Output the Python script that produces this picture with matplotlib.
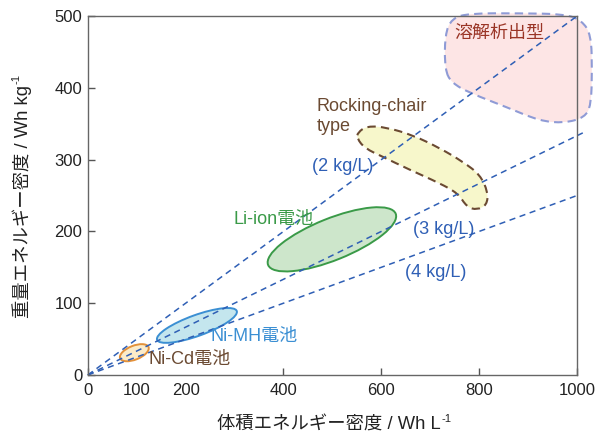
import numpy as np
import matplotlib
matplotlib.use('Agg')
import matplotlib.pyplot as plt
from matplotlib.patches import Ellipse, PathPatch
from matplotlib.path import Path
from matplotlib.transforms import Affine2D, ScaledTranslation

plt.rcParams['font.family'] = ['Liberation Sans', 'Noto Sans CJK JP']

# constant-density guide lines (Wh/kg = Wh/L / density)
densities = [2, 3, 4]
density_labels = ['(2 kg/L)', '(3 kg/L)', '(4 kg/L)']
line_end_x = [1000, 1012, 1000]
density_label_pos = [(458, 290), (665, 203), (648, 143)]

# battery families drawn as ellipses (centre in Wh/L, Wh/kg)
cells = ['Ni-Cd電池', 'Ni-MH電池', 'Li-ion電池']
cell_x = [95, 223, 499]
cell_y = [31, 69, 189]
cell_len_pt = [22, 61, 99]
cell_wid_pt = [10, 15, 30]
cell_angle = [21.6, 19.9, 21.9]
cell_edge = ['#e3913a', '#3b8fd3', '#3a9a48']
cell_face = ['#fcebc8', '#c4e6ee', '#cde6cb']
cell_text_pos = [(123, 22), (250, 54), (297, 217)]
cell_text_color = ['#6b4a32', '#3b8fd3', '#3a9a48']

# rocking-chair region outline
rock_x = [552, 571, 611, 665, 720, 767, 802, 818, 816, 796, 775, 757, 720, 658, 603, 566, 550]
rock_y = [338, 347, 345, 334, 316, 297, 279, 255, 237, 230, 234, 253, 267, 286, 304, 316, 330]

# dissolution-deposition region outline
diss_x = [730, 730, 744, 781, 883, 975, 1010, 1029, 1031, 1029, 1016, 975, 924, 857, 781, 744]
diss_y = [425, 474, 497, 504, 504, 503, 494, 474, 425, 376, 359, 351, 354, 373, 393, 407]


def smooth_path(xs, ys):
    pts = np.column_stack([xs, ys]).astype(float)
    mids = (pts + np.roll(pts, -1, axis=0)) / 2
    verts = [mids[-1]]
    codes = [Path.MOVETO]
    for i in range(len(pts)):
        verts += [pts[i], mids[i]]
        codes += [Path.CURVE3, Path.CURVE3]
    return Path(verts, codes)


fig = plt.figure(figsize=(6.06, 4.37), dpi=100)
ax = fig.add_axes([0.145, 0.142, 0.807, 0.821])
ax.set_xlim(0, 1000)
ax.set_ylim(0, 500)

# regions
ax.add_patch(PathPatch(smooth_path(diss_x, diss_y), facecolor='#fde5e5', edgecolor='#8f9bd6',
                       lw=1.5, linestyle=(0, (4, 2.5)), clip_on=False, zorder=0.5))
ax.add_patch(PathPatch(smooth_path(rock_x, rock_y), facecolor='#f7f7cb', edgecolor='#6b4a32',
                       lw=1.5, linestyle=(0, (4, 2.5)), zorder=1))

for i in range(len(cells)):
    tr = Affine2D().scale(1 / 72) + fig.dpi_scale_trans + ScaledTranslation(cell_x[i], cell_y[i], ax.transData)
    ax.add_patch(Ellipse((0, 0), cell_len_pt[i], cell_wid_pt[i], angle=cell_angle[i],
                         facecolor=cell_face[i], edgecolor=cell_edge[i], lw=1.4,
                         transform=tr, zorder=1))
    ax.text(cell_text_pos[i][0], cell_text_pos[i][1], cells[i], color=cell_text_color[i],
            fontsize=13, ha='left', va='center')

for d, xe, lab, pos in zip(densities, line_end_x, density_labels, density_label_pos):
    xs = np.array([0, xe])
    ax.plot(xs, xs / d, color='#2f5fb5', lw=1.1, linestyle=(0, (4, 3)), clip_on=False, zorder=2)
    ax.text(pos[0], pos[1], lab, color='#2f5fb5', fontsize=13, ha='left', va='center')

ax.text(750, 476, '溶解析出型', color='#9a3526', fontsize=13, ha='left', va='center')
ax.text(468, 360, 'Rocking-chair\ntype', color='#6b4a32', fontsize=13, ha='left', va='center',
        linespacing=1.25)

ax.set_xticks([0, 100, 200, 400, 600, 800, 1000])
ax.set_yticks([0, 100, 200, 300, 400, 500])
for k in (1, 2):
    ax.xaxis.get_major_ticks()[k].tick1line.set_visible(False)
ax.tick_params(direction='in', length=5, width=1, color='#555555', labelcolor='#222222',
               labelsize=12)
ax.tick_params(axis='x', pad=6)
ax.tick_params(axis='y', pad=4)
for s in ax.spines.values():
    s.set_color('#666666')
    s.set_linewidth(1)

# axis titles, with the "-1" superscript as its own small text
xl = fig.text(0.542, 0.017, '体積エネルギー密度 / Wh L', fontsize=13.2, color='#222222',
              ha='center', va='baseline')
yl = fig.text(0.046, 0.54, '重量エネルギー密度 / Wh kg', fontsize=13.2, color='#222222',
              ha='center', va='baseline', rotation=90, rotation_mode='anchor')
fig.canvas.draw()
r = fig.canvas.get_renderer()
bx = xl.get_window_extent(r)
by = yl.get_window_extent(r)
W, H = fig.bbox.width, fig.bbox.height
fig.text((bx.x1 + 1) / W, 0.017 + 8 / H, '-1', fontsize=8, color='#222222',
         ha='left', va='baseline')
fig.text(0.046 - 8 / W, (by.y1 + 1) / H, '-1', fontsize=8, color='#222222',
         ha='left', va='baseline', rotation=90, rotation_mode='anchor')

fig.savefig('out.png', dpi=100)
